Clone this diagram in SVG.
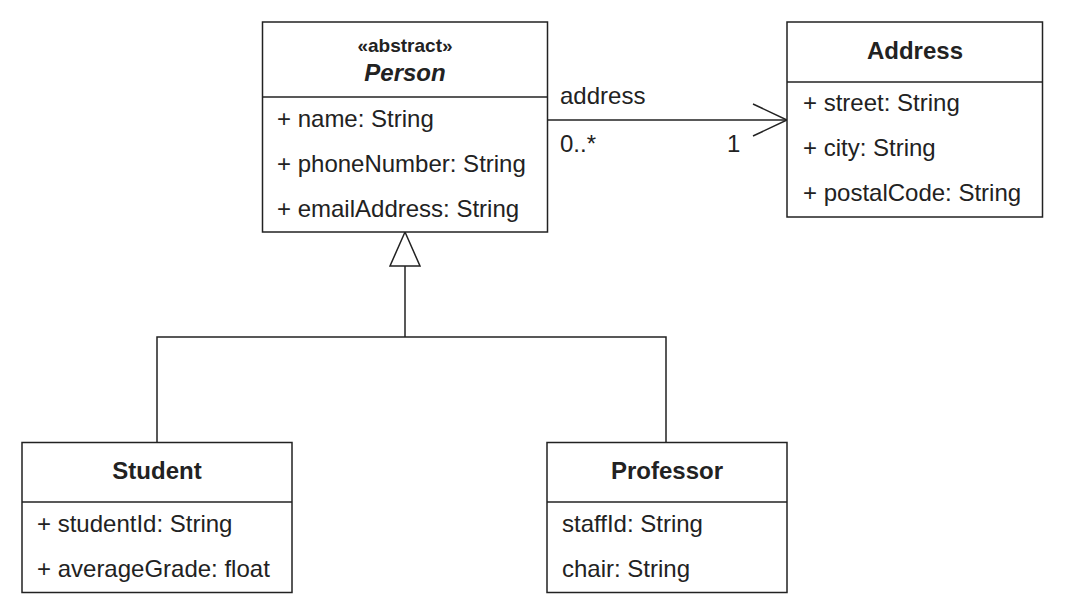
<svg xmlns="http://www.w3.org/2000/svg" width="1065" height="615" viewBox="0 0 1065 615">
<defs>
<style>
.box{fill:#fff;stroke:#222;stroke-width:1.5}
.ln{fill:none;stroke:#222;stroke-width:1.5}
text{font-family:"Liberation Sans",Arial,sans-serif;fill:#222}
.attr{font-size:24px}
.title{font-size:24px;font-weight:bold;text-anchor:middle}
.stereo{font-size:19px;font-weight:bold;text-anchor:middle}
.lbl{font-size:24px}
</style>
</defs>
<g id="connectors">
<line class="ln" x1="548" y1="120" x2="787" y2="120"/>
<polyline class="ln" points="753,104 787,120 753,136"/>
<polyline class="ln" points="157,442 157,337 666,337 666,442"/>
<line class="ln" x1="405" y1="337" x2="405" y2="266"/>
<polygon class="box" points="405,232 420,266 390,266"/>
<text class="lbl" x="560" y="104">address</text>
<text class="lbl" x="560" y="152">0..*</text>
<text class="lbl" x="727" y="152">1</text>
</g>
<g id="person">
<rect class="box" x="262.5" y="22" width="285" height="210"/>
<line class="ln" x1="262.5" y1="97" x2="547.5" y2="97"/>
<text class="stereo" x="405" y="52">«abstract»</text>
<text class="title" x="405" y="81" font-style="italic">Person</text>
<text class="attr" x="277" y="127">+ name: String</text>
<text class="attr" x="277" y="172">+ phoneNumber: String</text>
<text class="attr" x="277" y="217">+ emailAddress: String</text>
</g>
<g id="address">
<rect class="box" x="787" y="22" width="255.5" height="195"/>
<line class="ln" x1="787" y1="82" x2="1042.5" y2="82"/>
<text class="title" x="915" y="59">Address</text>
<text class="attr" x="803" y="111">+ street: String</text>
<text class="attr" x="803" y="156">+ city: String</text>
<text class="attr" x="803" y="201">+ postalCode: String</text>
</g>
<g id="student">
<rect class="box" x="22" y="442.5" width="270" height="150"/>
<line class="ln" x1="22" y1="502" x2="292" y2="502"/>
<text class="title" x="157" y="479">Student</text>
<text class="attr" x="37" y="532">+ studentId: String</text>
<text class="attr" x="37" y="577">+ averageGrade: float</text>
</g>
<g id="professor">
<rect class="box" x="547" y="442.5" width="240" height="150"/>
<line class="ln" x1="547" y1="502" x2="787" y2="502"/>
<text class="title" x="667" y="479">Professor</text>
<text class="attr" x="562" y="532">staffId: String</text>
<text class="attr" x="562" y="577">chair: String</text>
</g>
</svg>
